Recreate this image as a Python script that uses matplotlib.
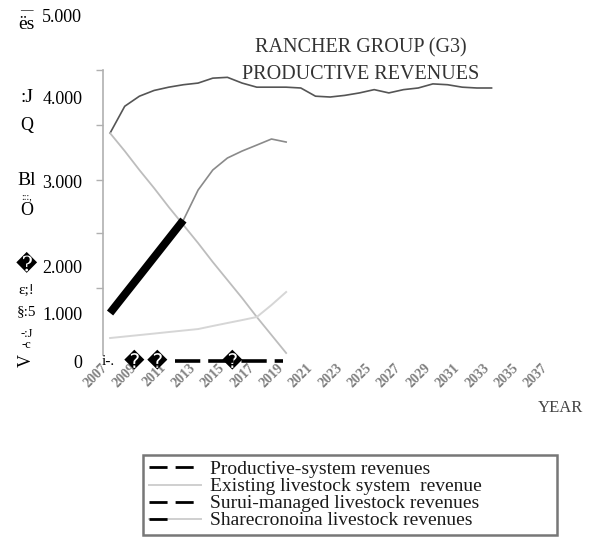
import numpy as np
import matplotlib
matplotlib.use("Agg")
import matplotlib.pyplot as plt
from matplotlib.lines import Line2D
from matplotlib.legend_handler import HandlerTuple

SERIF = ["Liberation Serif", "DejaVu Serif"]

# data (values in revenue units)
years_prod = list(range(2007, 2034))
productive = [3570, 3890, 4010, 4080, 4120, 4150, 4170, 4230, 4240, 4170,
              4120, 4120, 4120, 4110, 4010, 4000, 4020, 4050, 4090, 4050,
              4090, 4110, 4160, 4150, 4120, 4110, 4110]

years_short = list(range(2007, 2020))
existing = [3570, 3357, 3131, 2917, 2694, 2482, 2270, 2047, 1702, 1319, 917, 542, 167]
surui = [1000, 1396, 1790, 2103, 2322, 2541, 2894, 3131, 3274, 3357, 3428, 3500, 3464]
sharecrop = [479, 510, 541, 572, 604, 635, 666, 730, 792, 853, 917, 1170, 1447]

# garbled marks sitting on the zero line in the scan
zero_dash_years = [2011.4, 2018.8]
zero_dash_vals = [0, 0]
glyph_years = [2008.6, 2010.2, 2015.3]

ytick_vals = [0, 1000, 2000, 3000, 4000, 5000]
ytick_labels = ["0", "1.000", "2.000", "3.000", "4.000", "5.000"]
spine_ticks = [1532, 2388, 3012, 3667, 4329]
xtick_years = list(range(2007, 2038, 2))

legend_labels = ["Productive-system revenues", "Existing livestock system  revenue",
                 "Surui-managed livestock revenues", "Sharecronoina livestock revenues"]

# the scanned axis is not evenly spaced, so map values piecewise
scale_vals = np.array([0, 1000, 2000, 3000, 4000, 5000], dtype=float)
scale_pos = np.array([0, 48, 95, 180, 264, 346], dtype=float)


def fwd(v):
    return np.interp(v, scale_vals, scale_pos)


def inv(p):
    return np.interp(p, scale_pos, scale_vals)


fig = plt.figure(figsize=(5.89, 5.5), dpi=100)
ax = fig.add_axes([0.1749, 0.3436, 0.776, 0.6291])
ax.set_yscale("function", functions=(fwd, inv))
ax.set_xlim(2006.52, 2037.67)
ax.set_ylim(0, 5000)

ax.plot(years_prod, productive, color="#555555", lw=1.2)
ax.plot(years_short, existing, color="#bdbdbd", lw=1.3)
ax.plot(years_short[5:], surui[5:], color="#8a8a8a", lw=1.2)
ax.plot(years_short[:6], surui[:6], color="black", lw=5.7, solid_capstyle="butt")
ax.plot(years_short, sharecrop, color="#d6d6d6", lw=1.4)

ax.plot(zero_dash_years, zero_dash_vals, color="black", lw=2.6,
        dashes=(7, 2.2), clip_on=False)
for yr in glyph_years:
    ax.text(yr, 0, "\ufffd", fontsize=14.5, ha="center", va="center",
            family=["DejaVu Sans"], clip_on=False)
ax.text(2006.45, 0, "i-.", fontsize=11, ha="left", va="center", family=SERIF)

for s in ["top", "right", "bottom"]:
    ax.spines[s].set_visible(False)
ax.spines["left"].set_color("#b0b0b0")
ax.spines["left"].set_linewidth(1.2)
ax.spines["left"].set_bounds(125, 4330)

ax.set_yticks(ytick_vals)
ax.set_yticklabels(ytick_labels, family=SERIF, fontsize=13)
ax.set_yticks(spine_ticks, minor=True)
ax.tick_params(axis="y", which="major", length=0, pad=15)
ax.tick_params(axis="y", which="minor", length=5, color="#b0b0b0", width=1)
ax.yaxis.set_minor_formatter(plt.NullFormatter())

ax.set_xticks(xtick_years)
ax.set_xticklabels([str(y) for y in xtick_years], rotation=45, ha="right",
                   family=SERIF, fontsize=10, color="#808080", fontweight="bold")
ax.tick_params(axis="x", length=0, pad=0)

fig.text(0.99, 0.258, "YEAR", family=SERIF, fontsize=12, color="#444444",
         ha="right", va="center")

fig.text(0.612, 0.913, "RANCHER GROUP (G3)", family=SERIF, fontsize=14.5,
         color="#333333", ha="center", va="center")
fig.text(0.612, 0.865, "PRODUCTIVE REVENUES", family=SERIF, fontsize=14.5,
         color="#333333", ha="center", va="center")

# garbled rotated axis title from the scan, kept as upright fragments
garble = [("\u2014", 0.982, 9), ("\u00ebs", 0.955, 14), (":J", 0.823, 14),
          ("Q", 0.772, 13), ("Bl", 0.671, 14), (":::,", 0.643, 7),
          ("O", 0.618, 13), ("\ufffd", 0.518, 15), ("\u03b5;!", 0.472, 11),
          ("\u00a7:5", 0.433, 11), ("-:J", 0.392, 9), ("-c", 0.372, 9)]
for txt, yy, fs in garble:
    fig.text(0.045, yy, txt, family=SERIF + ["DejaVu Sans"], fontsize=fs,
             ha="center", va="center")
fig.text(0.045, 0.345, "V", family=SERIF, fontsize=13, rotation=90,
         ha="center", va="center")

h1 = Line2D([], [], color="black", lw=2, dashes=(6.5, 2.9))
h2 = Line2D([], [], color="#cfcfcf", lw=1.4)
h3 = Line2D([], [], color="black", lw=2, dashes=(6.5, 2.9))
h4a = Line2D([], [], color="#cfcfcf", lw=1.4)
h4b = Line2D([], [], color="black", lw=2, dashes=(6.5, 40))
leg = fig.legend([h1, h2, h3, (h4a, h4b)], legend_labels,
                 handler_map={tuple: HandlerTuple(ndivide=1)},
                 loc="upper left", mode="expand",
                 bbox_to_anchor=(0.243, 0.02, 0.703, 0.153),
                 bbox_transform=fig.transFigure, prop={"family": SERIF, "size": 14},
                 frameon=True, fancybox=False, edgecolor="#555555",
                 labelspacing=-0.03, handlelength=2.67, handletextpad=0.45,
                 borderpad=0.3, borderaxespad=0)
leg.get_frame().set_linewidth(1.8)
for t in leg.get_texts():
    t.set_color("#1a1a1a")

fig.savefig("out.png", dpi=100)
